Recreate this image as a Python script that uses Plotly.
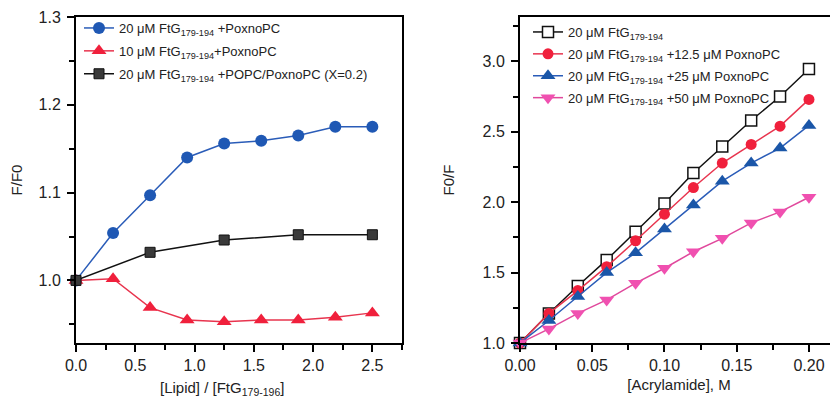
import plotly.graph_objects as go

# ---- Left panel data ----
lipid_ratio = [0, 0.3125, 0.625, 0.9375, 1.25, 1.5625, 1.875, 2.1875, 2.5]
ff0_20uM = [1.000, 1.054, 1.097, 1.140, 1.156, 1.159, 1.165, 1.175, 1.175]
ff0_10uM = [1.000, 1.002, 0.969, 0.955, 0.953, 0.955, 0.955, 0.958, 0.963]
lipid_ratio_popc = [0, 0.625, 1.25, 1.875, 2.5]
ff0_popc = [1.000, 1.032, 1.046, 1.052, 1.052]

# ---- Right panel data ----
acrylamide = [0, 0.02, 0.04, 0.06, 0.08, 0.10, 0.12, 0.14, 0.16, 0.18, 0.20]
f0f_pep = [1.0, 1.21, 1.405, 1.59, 1.79, 1.99, 2.207, 2.396, 2.58, 2.75, 2.946]
f0f_12_5 = [1.0, 1.21, 1.372, 1.542, 1.726, 1.915, 2.104, 2.278, 2.41, 2.54, 2.73]
f0f_25 = [1.0, 1.16, 1.33, 1.50, 1.64, 1.81, 1.98, 2.149, 2.278, 2.384, 2.545]
f0f_50 = [1.0, 1.10, 1.21, 1.306, 1.425, 1.531, 1.648, 1.743, 1.853, 1.931, 2.035]

left_labels = [
    "20 μM FtG<sub>179-194</sub> +PoxnoPC",
    "10 μM FtG<sub>179-194</sub>+PoxnoPC",
    "20 μM FtG<sub>179-194</sub> +POPC/PoxnoPC (X=0.2)",
]
right_labels = [
    "20 μM FtG<sub>179-194</sub>",
    "20 μM FtG<sub>179-194</sub> +12.5 μM PoxnoPC",
    "20 μM FtG<sub>179-194</sub> +25 μM PoxnoPC",
    "20 μM FtG<sub>179-194</sub> +50 μM PoxnoPC",
]
left_xtitle = "[Lipid] / [FtG<sub>179-196</sub>]"

FONT = "Liberation Sans, Arial, sans-serif"
W, H = 830, 402   # page body has an 8px margin
OFF = 8

def px_x(p):
    return (p - OFF) / W

def px_y(p):
    return 1 - (p - OFF) / H

fig = go.Figure()

# Left traces
fig.add_trace(go.Scatter(x=lipid_ratio, y=ff0_20uM, name=left_labels[0], mode="lines+markers",
                         line=dict(color="#2a5cb8", width=1.5),
                         marker=dict(symbol="circle", size=12, color="#1f58b4"),
                         xaxis="x", yaxis="y", legend="legend", legendgroup="a", cliponaxis=False))
fig.add_trace(go.Scatter(x=lipid_ratio, y=ff0_10uM, name=left_labels[1], mode="lines+markers",
                         line=dict(color="#e8344e", width=1.5),
                         marker=dict(symbol="triangle-up", size=13, color="#f0203c"),
                         xaxis="x", yaxis="y", legend="legend", legendgroup="b", cliponaxis=False))
fig.add_trace(go.Scatter(x=lipid_ratio_popc, y=ff0_popc, name=left_labels[2], mode="lines+markers",
                         line=dict(color="#111111", width=1.5),
                         marker=dict(symbol="square", size=10, color="#3a3a3a",
                                     line=dict(color="#111111", width=1)),
                         xaxis="x", yaxis="y", legend="legend", legendgroup="c", cliponaxis=False))

# Right traces
fig.add_trace(go.Scatter(x=acrylamide, y=f0f_pep, name=right_labels[0], mode="lines+markers",
                         line=dict(color="#111111", width=1.5),
                         marker=dict(symbol="square", size=11, color="white",
                                     line=dict(color="#111111", width=1.5)),
                         xaxis="x2", yaxis="y2", legend="legend2", legendgroup="d", cliponaxis=False))
fig.add_trace(go.Scatter(x=acrylamide, y=f0f_12_5, name=right_labels[1], mode="lines+markers",
                         line=dict(color="#e8344e", width=1.5),
                         marker=dict(symbol="circle", size=11, color="#f0203c"),
                         xaxis="x2", yaxis="y2", legend="legend2", legendgroup="e", cliponaxis=False))
fig.add_trace(go.Scatter(x=acrylamide, y=f0f_25, name=right_labels[2], mode="lines+markers",
                         line=dict(color="#2a5cb8", width=1.5),
                         marker=dict(symbol="triangle-up", size=13, color="#1a56a8"),
                         xaxis="x2", yaxis="y2", legend="legend2", legendgroup="f", cliponaxis=False))
fig.add_trace(go.Scatter(x=acrylamide, y=f0f_50, name=right_labels[3], mode="lines+markers",
                         line=dict(color="#e0489c", width=1.5),
                         marker=dict(symbol="triangle-down", size=13, color="#f050b0"),
                         xaxis="x2", yaxis="y2", legend="legend2", legendgroup="g", cliponaxis=False))

axis_common = dict(showline=True, linecolor="black", linewidth=2, showgrid=False, zeroline=False,
                   automargin=False,
                   ticks="outside", ticklen=7, tickwidth=1.5, tickcolor="black",
                   tickfont=dict(family=FONT, size=16, color="#222"),
                   title_font=dict(family=FONT, size=15, color="#222"))
minor = dict(ticks="outside", ticklen=5, tickwidth=1.5, tickcolor="black", showgrid=False)

yb = px_y(343)
yt = px_y(17)

fig.update_layout(
    width=W, height=H,
    margin=dict(l=0, r=0, t=0, b=0, autoexpand=False),
    paper_bgcolor="white", plot_bgcolor="white",
    font=dict(family=FONT, color="#222"),
    xaxis=dict(domain=[px_x(76), px_x(402)], range=[0, 2.75], tickvals=[0, 0.5, 1.0, 1.5, 2.0, 2.5],
               ticktext=["0.0", "0.5", "1.0", "1.5", "2.0", "2.5"], mirror=True,
               minor=dict(dtick=0.25, **minor), anchor="y", **axis_common),
    yaxis=dict(domain=[yb, yt], range=[0.9287, 1.3], tickvals=[1.0, 1.1, 1.2, 1.3],
               ticktext=["1.0", "1.1", "1.2", "1.3"], mirror=True, ticklabelstandoff=3,
               minor=dict(tickvals=[0.95, 1.05, 1.15, 1.25], **minor), anchor="x",
               title=dict(text="F/F0", standoff=24), **axis_common),
    xaxis2=dict(domain=[px_x(520), 1.0], range=[0, 0.2201], tickvals=[0, 0.05, 0.10, 0.15, 0.20],
                ticktext=["0.00", "0.05", "0.10", "0.15", "0.20"], mirror=True,
                minor=dict(dtick=0.025, **minor), anchor="y2",
                title=dict(text="[Acrylamide], M", standoff=6), **axis_common),
    yaxis2=dict(domain=[yb, yt], range=[1.0, 3.315], tickvals=[1.0, 1.5, 2.0, 2.5, 3.0],
                ticktext=["1.0", "1.5", "2.0", "2.5", "3.0"], mirror=False, ticklabelstandoff=3,
                minor=dict(tickvals=[1.25, 1.75, 2.25, 2.75, 3.25], **minor), anchor="x2",
                title=dict(text="F0/F", standoff=24), **axis_common),
    legend=dict(x=px_x(79), y=px_y(13), xanchor="left", yanchor="top",
                bgcolor="rgba(0,0,0,0)", font=dict(family=FONT, size=13, color="#222"),
                itemwidth=30, tracegroupgap=3),
    legend2=dict(x=px_x(528), y=px_y(17), xanchor="left", yanchor="top",
                 bgcolor="rgba(0,0,0,0)", font=dict(family=FONT, size=13, color="#222"),
                 itemwidth=30, tracegroupgap=2),
    annotations=[dict(text=left_xtitle, x=px_x(222), y=px_y(388), xref="paper", yref="paper",
                      xanchor="center", yanchor="middle", showarrow=False,
                      font=dict(family=FONT, size=15, color="#222"))],
    showlegend=True,
)

fig.write_html("out.html")
